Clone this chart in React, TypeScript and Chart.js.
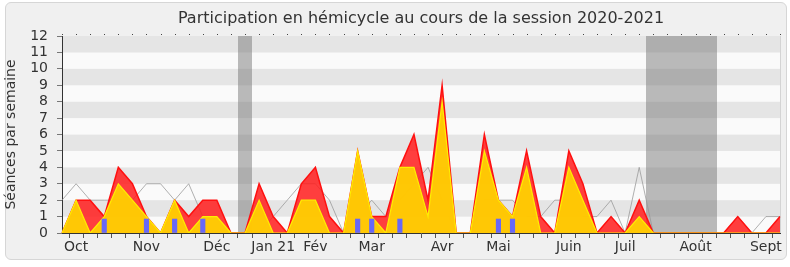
import React, { useEffect, useRef } from "react";
import { Chart, registerables } from "chart.js";

Chart.register(...registerables);

const FONT = "'DejaVu Sans', sans-serif";

const titleText = "Participation en hémicycle au cours de la session 2020-2021";
const yAxisTitle = "Séances par semaine";

// 52 weeks of the session; month labels on the first week shown for each month
const monthLabels = [
  "", "Oct", "", "", "", "", "Nov", "", "", "", "", "Déc", "", "",
  "", "Jan 21", "", "", "Fév", "", "", "", "Mar", "", "", "", "",
  "Avr", "", "", "", "Mai", "", "", "", "", "Juin", "", "", "",
  "Juil", "", "", "", "", "Août", "", "", "", "", "Sept", "",
];

// total presence (red)
const presenceTotal = [
  0, 2, 2, 1, 4, 3, 1, 0, 2, 1, 2, 2, 0, 0, 3, 1, 0, 3, 4, 1, 0, 5, 1, 1, 4, 6,
  2, 9, 0, 0, 6, 2, 1, 5, 1, 0, 5, 3, 0, 1, 0, 2, 0, 0, 0, 0, 0, 0, 1, 0, 0, 1,
];

// presence in commission / votes (yellow)
const presencePart = [
  0, 2, 0, 1, 3, 2, 1, 0, 2, 0, 1, 1, 0, 0, 2, 0, 0, 2, 2, 0, 0, 5, 1, 0, 4, 4,
  1, 8, 0, 0, 5, 2, 1, 4, 0, 0, 4, 2, 0, 0, 0, 1, 0, 0, 0, 0, 0, 0, 0, 0, 0, 0,
];

// median of deputies (gray line)
const medianLine = [
  2, 3, 2, 2, 2, 2, 3, 3, 2, 3, 1, 1, 0, 0, 0, 1, 2, 3, 3, 2, 0, 1, 2, 1, 2, 3,
  4, 2, 0, 0, 2, 2, 2, 1, 1, 2, 2, 1, 1, 2, 0, 4, 0, 0, 0, 0, 0, 0, 1, 0, 1, 1,
];

// weeks with oral questions (blue markers)
const questionWeeks = [3, 6, 8, 10, 21, 22, 24, 31, 32];
const questionHeight = 0.85;

// parliamentary vacation weeks (gray bands)
const vacationWeeks = [13, 42, 43, 44, 45, 46];
const yMax = 12;

const questionData = monthLabels.map((_, i) => (questionWeeks.includes(i) ? questionHeight : null));

function vacationRanges(weeks: number[]) {
  const out: [number, number][] = [];
  weeks.forEach((w) => {
    const last = out[out.length - 1];
    if (last && last[1] === w - 1) last[1] = w;
    else out.push([w, w]);
  });
  return out;
}

const decorPlugin = {
  id: "decor",
  beforeDraw(chart: any) {
    const { ctx, chartArea } = chart;
    const y = chart.scales.y;
    ctx.save();
    for (let v = 0; v < yMax; v++) {
      const top = y.getPixelForValue(v + 1);
      const bot = y.getPixelForValue(v);
      ctx.fillStyle = v % 2 === 1 ? "#e5e5e5" : "#fafafa";
      ctx.fillRect(chartArea.left, top, chartArea.right - chartArea.left, bot - top);
    }
    ctx.strokeStyle = "#d4d4d4";
    ctx.lineWidth = 1;
    ctx.beginPath();
    ctx.moveTo(chartArea.right + 0.5, chartArea.top);
    ctx.lineTo(chartArea.right + 0.5, chartArea.bottom);
    ctx.stroke();
    ctx.restore();
  },
  beforeDatasetsDraw(chart: any) {
    const { ctx, chartArea } = chart;
    const x = chart.scales.x;
    const half = (x.getPixelForValue(1) - x.getPixelForValue(0)) / 2;
    ctx.save();
    ctx.fillStyle = "rgba(120,120,120,0.5)";
    vacationRanges(vacationWeeks).forEach(([a, b]) => {
      const l = Math.round(x.getPixelForValue(a) - half);
      const r = Math.round(x.getPixelForValue(b) + half);
      ctx.fillRect(l, chartArea.top, r - l, chartArea.bottom - chartArea.top);
    });
    ctx.restore();
  },
  afterDraw(chart: any) {
    const { ctx, chartArea } = chart;
    const x = chart.scales.x;
    ctx.save();
    ctx.fillStyle = "#444";
    for (let i = 0; i < monthLabels.length; i++) {
      const px = Math.round(x.getPixelForValue(i));
      ctx.fillRect(px, chartArea.top - 2, 1, 1);
    }
    ctx.fillStyle = "#333";
    ctx.font = "16px " + FONT;
    ctx.textAlign = "center";
    ctx.textBaseline = "middle";
    ctx.fillText(titleText, (chartArea.left + chartArea.right) / 2, 19);
    ctx.restore();
  },
};

export default function App() {
  const canvasRef = useRef<HTMLCanvasElement | null>(null);

  useEffect(() => {
    if (!canvasRef.current) return;
    const chart = new Chart(canvasRef.current, {
      type: "bar",
      data: {
        labels: monthLabels,
        datasets: [
          {
            type: "bar",
            data: questionData,
            backgroundColor: "#6868f8",
            barThickness: 4.5,
            grouped: false,
            order: 0,
          } as any,
          {
            type: "line",
            data: presencePart,
            borderColor: "#ffee00",
            borderWidth: 1.2,
            backgroundColor: "rgba(255,212,0,0.92)",
            fill: "origin",
            pointRadius: 0,
            tension: 0,
            order: 1,
          },
          {
            type: "line",
            data: presenceTotal,
            borderColor: "#ff1010",
            borderWidth: 1.5,
            backgroundColor: "rgba(255,30,30,0.86)",
            fill: "origin",
            pointRadius: 0,
            tension: 0,
            order: 2,
          },
          {
            type: "line",
            data: medianLine,
            borderColor: "rgba(150,150,150,0.75)",
            borderWidth: 1,
            fill: false,
            pointRadius: 0,
            tension: 0,
            order: 3,
          },
        ],
      },
      options: {
        responsive: false,
        animation: false,
        devicePixelRatio: 1,
        layout: { padding: { top: 36, right: 10, left: 0, bottom: 0 } },
        plugins: {
          legend: { display: false },
          title: { display: false },
          tooltip: { enabled: false },
        },
        scales: {
          x: {
            type: "category",
            offset: false,
            grid: { drawOnChartArea: false, drawTicks: true, tickLength: 5, color: "#555" },
            border: { display: true, color: "#333" },
            ticks: {
              autoSkip: false,
              maxRotation: 0,
              minRotation: 0,
              padding: 1,
              color: "#333",
              font: { family: FONT, size: 14 },
              callback: (_v: any, i: number) => monthLabels[i],
            },
            afterFit: (s: any) => {
              s.height = 34;
            },
          },
          y: {
            min: 0,
            max: yMax,
            grid: { drawOnChartArea: false, drawTicks: true, tickLength: 5, color: "#777" },
            border: { display: true, color: "#333" },
            ticks: {
              stepSize: 1,
              autoSkip: false,
              padding: 9,
              color: "#333",
              font: { family: FONT, size: 14 },
            },
            title: {
              display: true,
              text: yAxisTitle,
              color: "#333",
              font: { family: FONT, size: 14 },
              padding: { top: 3, bottom: 0 },
            },
            afterFit: (s: any) => {
              s.width = 62;
            },
          },
        },
      },
      plugins: [decorPlugin],
    });
    return () => chart.destroy();
  }, []);

  return (
    <div style={{ position: "absolute", left: 0, top: 0, width: 790, height: 267, background: "#ffffff" }}>
      <div
        style={{
          position: "absolute",
          left: 5,
          top: 2,
          width: 782,
          height: 258,
          border: "1px solid #d6d6d6",
          borderRadius: 6,
          background: "#f0f0f0",
          boxSizing: "border-box",
        }}
      />
      <canvas
        ref={canvasRef}
        width={790}
        height={267}
        style={{ position: "absolute", left: 0, top: 0, width: 790, height: 267 }}
      />
    </div>
  );
}
